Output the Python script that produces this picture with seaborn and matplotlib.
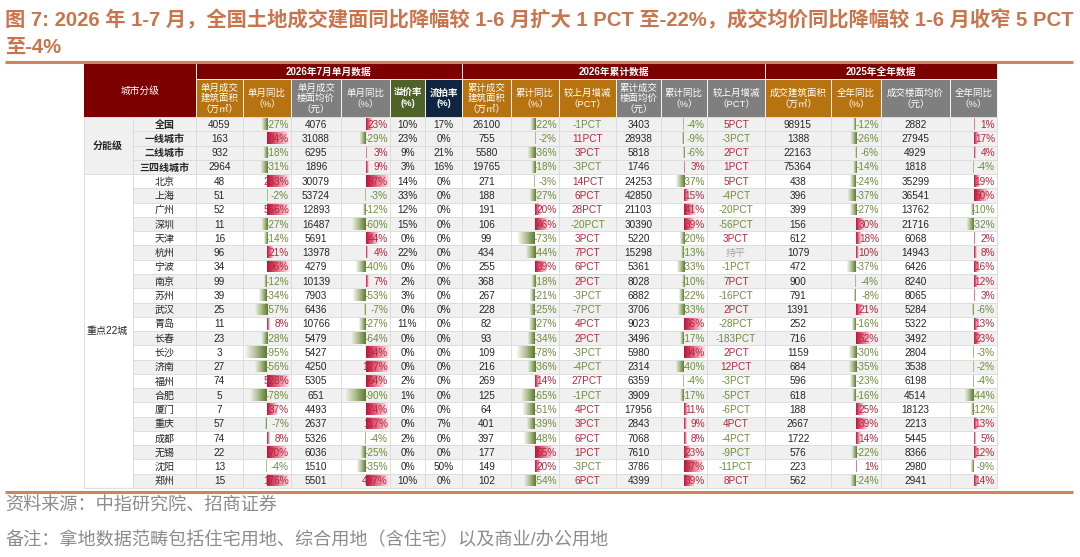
import numpy as np
import pandas as pd
import matplotlib
matplotlib.use("Agg")
import matplotlib.pyplot as plt
from matplotlib.colors import LinearSegmentedColormap
from matplotlib.patches import Rectangle
import seaborn as sns

# ------------------------- Data -------------------------
tiers = ["全国", "一线城市", "二线城市", "三四线城市"]
cities = ["北京", "上海", "广州", "深圳", "天津", "杭州", "宁波", "南京", "苏州", "武汉", "青岛",
          "长春", "长沙", "济南", "福州", "合肥", "厦门", "重庆", "成都", "无锡", "沈阳", "郑州"]

# 2026年7月单月数据
area_m = [4059, 163, 932, 2964, 48, 51, 52, 11, 16, 96, 34, 99, 39, 25, 11,
          23, 3, 27, 74, 5, 7, 57, 74, 22, 13, 15]
area_m_yoy = [-27, 84, -18, -31, 283, -2, 566, -27, -14, 21, 96, -12, -34, -57, 8,
              -28, -95, -56, 528, -78, 37, -7, 8, 70, -4, 176]
price_m = [4076, 31088, 6295, 1896, 30079, 53724, 12893, 16487, 5691, 13978, 4279, 10139, 7903, 6436, 10766,
           5479, 5427, 4250, 5305, 651, 4493, 2637, 5326, 6036, 1510, 5501]
price_m_yoy = [23, -29, 3, 9, 97, -3, -12, -60, 44, 4, -40, 7, -53, -7, -27,
               -64, 94, 127, 64, -90, 74, 117, -4, -25, -35, 497]
premium = [10, 23, 9, 3, 14, 33, 12, 15, 0, 22, 0, 2, 3, 0, 11,
           0, 0, 0, 2, 1, 0, 0, 2, 0, 0, 10]
fail_rate = [17, 0, 21, 16, 0, 0, 0, 0, 0, 0, 0, 0, 0, 0, 0,
             0, 0, 0, 0, 0, 0, 7, 0, 0, 50, 0]

# 2026年累计数据
area_c = [26100, 755, 5580, 19765, 271, 188, 191, 106, 99, 434, 255, 368, 267, 228, 82,
          93, 109, 216, 269, 125, 64, 401, 397, 177, 149, 102]
area_c_yoy = [-22, -2, -36, -18, -3, -27, 20, 46, -73, -44, 39, -18, -21, -25, -27,
              -34, -78, -36, 14, -65, -51, -39, -48, 65, 20, -54]
area_c_chg = [-1, 11, 3, -3, 14, 6, 28, -20, 3, 7, 6, 2, -3, -7, 4,
              2, -3, -4, 27, -1, 4, 3, 6, 1, -3, 6]
price_c = [3403, 28938, 5818, 1746, 24253, 42850, 21103, 30390, 5220, 15298, 5361, 8028, 6882, 3706, 9023,
           3496, 5980, 2314, 6359, 3909, 17956, 2843, 7068, 7610, 3786, 4399]
price_c_yoy = [-4, -9, -6, 3, -37, 15, 41, 39, -20, -13, -33, -10, -22, -33, 66,
               -17, 94, -40, -4, -17, 11, 9, 8, 23, 67, 39]
price_c_chg = [5, -3, 2, 1, 5, -4, -20, -56, 3, 0, -1, 7, -16, 2, -28,
               -183, 2, 12, -3, -5, -6, 4, -4, -9, -11, 8]

# 2025年全年数据
area_y = [98915, 1388, 22163, 75364, 438, 396, 399, 156, 612, 1079, 472, 900, 791, 1391, 252,
          716, 1159, 684, 596, 618, 188, 2667, 1722, 576, 223, 562]
area_y_yoy = [-12, -26, -6, -14, -24, -37, -27, 30, 18, 10, -37, -4, -8, 21, -16,
              52, -30, -35, -23, -16, 25, 39, 14, -22, 1, -24]
price_y = [2882, 27945, 4929, 1818, 35299, 36541, 13762, 21716, 6068, 14943, 6426, 8240, 8065, 5284, 5322,
           3492, 2804, 3538, 6198, 4514, 18123, 2213, 5445, 8366, 2980, 2941]
price_y_yoy = [1, 17, 4, -4, 19, 50, -10, -32, 2, 8, 16, 12, 3, -6, 13,
               23, -3, -2, -4, -44, -12, 13, 5, 12, -9, 14]

df = pd.DataFrame({
    "name": tiers + cities,
    "area_m": area_m, "area_m_yoy": area_m_yoy, "price_m": price_m, "price_m_yoy": price_m_yoy,
    "premium": premium, "fail_rate": fail_rate,
    "area_c": area_c, "area_c_yoy": area_c_yoy, "area_c_chg": area_c_chg,
    "price_c": price_c, "price_c_yoy": price_c_yoy, "price_c_chg": price_c_chg,
    "area_y": area_y, "area_y_yoy": area_y_yoy, "price_y": price_y, "price_y_yoy": price_y_yoy,
})

# ------------------------- Style -------------------------
sns.set_theme(style="white")
plt.rcParams['font.family'] = ['Liberation Sans', 'Noto Sans CJK SC', 'DejaVu Sans']

DARK_RED = "#7d0000"
ORG = "#b7730f"
GRY = "#7f7f7f"
GRN = "#4f6228"
NAV = "#10253f"
TXT = "#262626"
TXT_RED = "#b3283b"
TXT_GRN = "#6e8c3a"
GRID = "#d9d9d9"
STRIPE = "#f0f0f0"

red_cmap = LinearSegmentedColormap.from_list("r", ["#c0103a", "#e8788f", "#fdf0f2"])
grn_cmap = LinearSegmentedColormap.from_list("g", ["#5b7a2c", "#b0c094", "#f6f8f2"])

# column layout (pixels)
edges = [84, 133, 196, 243, 291, 341, 390, 425, 462, 511, 559, 616, 661, 707, 765, 831, 881, 950, 997]
columns = [
    ("area_m", "num", ORG, "单月成交\n建筑面积\n（万㎡）"),
    ("area_m_yoy", "bar", ORG, "单月同比\n（%）"),
    ("price_m", "num", GRY, "单月成交\n楼面均价\n（元）"),
    ("price_m_yoy", "bar", GRY, "单月同比\n（%）"),
    ("premium", "pct", GRN, "溢价率\n(%)"),
    ("fail_rate", "pct", NAV, "流拍率\n(%)"),
    ("area_c", "num", ORG, "累计成交\n建筑面积\n（万㎡）"),
    ("area_c_yoy", "bar", ORG, "累计同比\n（%）"),
    ("area_c_chg", "chg", ORG, "较上月增减\n（PCT）"),
    ("price_c", "num", GRY, "累计成交\n楼面均价\n（元）"),
    ("price_c_yoy", "bar", GRY, "累计同比\n（%）"),
    ("price_c_chg", "chg", GRY, "较上月增减\n（PCT）"),
    ("area_y", "num", ORG, "成交建筑面积\n（万㎡）"),
    ("area_y_yoy", "bar", ORG, "全年同比\n（%）"),
    ("price_y", "num", GRY, "成交楼面均价\n（元）"),
    ("price_y_yoy", "bar", GRY, "全年同比\n（%）"),
]
groups = [(196, 462, "2026年7月单月数据"), (462, 765, "2026年累计数据"), (765, 997, "2025年全年数据")]

head_top, head_mid, head_bot = 63, 79, 117
table_bot = 488
n_rows = len(df)
rh = (table_bot - head_bot) / n_rows

fig = plt.figure(figsize=(10.8, 5.57), dpi=100)
ax = fig.add_axes([0, 0, 1, 1])
ax.set_xlim(0, 1080)
ax.set_ylim(557, 0)
ax.axis("off")

# ------------------------- Title -------------------------
title_kw = dict(fontsize=14.6, fontweight="bold", color="#c9744c", va="center", ha="left")
ax.text(5, 20, "图 7: 2026 年 1-7 月，全国土地成交建面同比降幅较 1-6 月扩大 1 PCT 至-22%，成交均价同比降幅较 1-6 月收窄 5 PCT", **title_kw)
ax.text(5, 47, "至-4%", **title_kw)
ax.plot([5, 1073], [62, 62], color="#d4825a", lw=2.2, solid_capstyle="butt")

# ------------------------- Header -------------------------
ax.add_patch(Rectangle((edges[0], head_top), edges[2] - edges[0], head_bot - head_top, color=DARK_RED, lw=0))
ax.text((edges[0] + edges[2]) / 2, 91, "城市分级", color="white", fontsize=7, ha="center", va="center")
for x0, x1, label in groups:
    ax.add_patch(Rectangle((x0, head_top), x1 - x0, head_mid - head_top, facecolor=DARK_RED,
                           edgecolor="white", lw=0.6))
    ax.text((x0 + x1) / 2, (head_top + head_mid) / 2 + 0.5, label, color="white", fontsize=7,
            fontweight="bold", ha="center", va="center")
for i, (key, kind, col, label) in enumerate(columns):
    x0, x1 = edges[i + 2], edges[i + 3]
    ax.add_patch(Rectangle((x0, head_mid), x1 - x0, head_bot - head_mid, facecolor=col,
                           edgecolor="white", lw=0.6))
    bold = "bold" if kind == "pct" else "normal"
    ax.text((x0 + x1) / 2, (head_mid + head_bot) / 2 + 0.5, label, color="white", fontsize=6.8,
            fontweight=bold, ha="center", va="center", linespacing=1.2)

# ------------------------- Body -------------------------
# left group label cells
ax.add_patch(Rectangle((edges[0], head_bot), edges[1] - edges[0], 4 * rh, color=STRIPE, lw=0))
ax.text(108, head_bot + 2 * rh, "分能级", fontsize=7.2, fontweight="bold", color=TXT, ha="center", va="center")
ax.text(107, head_bot + 4 * rh + 11 * rh, "重点22城", fontsize=7.2, color=TXT, ha="center", va="center")

for r, row in df.iterrows():
    y0 = head_bot + r * rh
    yc = y0 + rh / 2
    if r < 4:
        shade = STRIPE
    else:
        shade = STRIPE if (r - 4) % 2 == 1 else "white"
    ax.add_patch(Rectangle((edges[1], y0), edges[-1] - edges[1], rh, color=shade, lw=0, zorder=0))
    ax.text((edges[1] + edges[2]) / 2, yc + 0.5, row["name"], fontsize=7.2, color=TXT,
            fontweight="bold" if r < 4 else "normal", ha="center", va="center", zorder=4)

    for i, (key, kind, col, label) in enumerate(columns):
        x0, x1 = edges[i + 2], edges[i + 3]
        v = row[key]
        if kind == "num":
            ax.text((x0 + x1) / 2, yc + 0.5, f"{v}", fontsize=7.2, color=TXT, ha="center", va="center", zorder=4)
        elif kind == "pct":
            ax.text((x0 + x1) / 2, yc + 0.5, f"{v}%", fontsize=7.2, color=TXT, ha="center", va="center", zorder=4)
        elif kind == "chg":
            if v == 0:
                s, c = "持平", "#a6a6a6"
            else:
                s, c = f"{v}PCT", (TXT_RED if v > 0 else TXT_GRN)
            ax.text((x0 + x1) / 2, yc + 0.5, s, fontsize=7.2, color=c, ha="center", va="center", zorder=4)
        else:
            axis_x = (x0 + x1) / 2
            half = (x1 - x0) / 2 - 1
            if v < 0:
                length = min(-v / 100, 1) * half
                grad = np.linspace(1, 0, 64)[None, :]
                ax.imshow(grad, cmap=grn_cmap, vmin=0, vmax=1, aspect="auto", interpolation="bilinear",
                          extent=(axis_x - length, axis_x, y0 + rh - 1.5, y0 + 1.5), zorder=2)
            elif v > 0:
                length = min(v / 80, 1) * half
                grad = np.linspace(0, 1, 64)[None, :]
                ax.imshow(grad, cmap=red_cmap, vmin=0, vmax=1, aspect="auto", interpolation="bilinear",
                          extent=(axis_x, axis_x + length, y0 + rh - 1.5, y0 + 1.5), zorder=2)
            c = TXT_RED if v > 0 else (TXT_GRN if v < 0 else TXT)
            ax.text(x1 - 2, yc + 0.5, f"{v}%", fontsize=7.2, color=c, ha="right", va="center", zorder=4)

# grid lines
for r in range(n_rows + 1):
    y = head_bot + r * rh
    x_start = edges[0] if r in (0, 4, n_rows) else edges[1]
    ax.plot([x_start, edges[-1]], [y, y], color=GRID, lw=0.6, zorder=3)
for x in edges:
    ax.plot([x, x], [head_bot, table_bot], color=GRID, lw=0.6, zorder=3)

# ------------------------- Footer -------------------------
ax.plot([5, 1073], [492, 492], color="#d4825a", lw=2.2, solid_capstyle="butt")
ax.text(5, 506, "资料来源：中指研究院、招商证券", fontsize=13.1, color="#8c8c8c", ha="left", va="center")
ax.text(5, 541, "备注：拿地数据范畴包括住宅用地、综合用地（含住宅）以及商业/办公用地", fontsize=13.1,
        color="#8c8c8c", ha="left", va="center")

ax.set_xlim(0, 1080)
ax.set_ylim(557, 0)
fig.savefig("out.png", dpi=100)
plt.close(fig)
